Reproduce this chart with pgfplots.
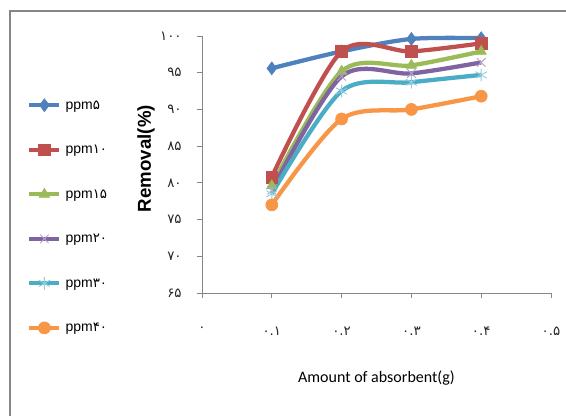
\documentclass[border=0pt]{standalone}
\usepackage{pgfplots}
\pgfplotsset{compat=1.18}
\usepackage{fontspec}
\setmainfont{Liberation Sans}
\newfontfamily\fa{DejaVu Sans}
\newfontfamily\calib{Carlito}
\definecolor{cBlue}{HTML}{4F81BD}
\definecolor{cRed}{HTML}{C0504D}
\definecolor{cGreen}{HTML}{9BBB59}
\definecolor{cPurple}{HTML}{8064A2}
\definecolor{cCyan}{HTML}{4BACC6}
\definecolor{cOrange}{HTML}{F79646}
\definecolor{axgray}{HTML}{868686}
\begin{document}
\begin{tikzpicture}
\path[use as bounding box] (0,0) rectangle (424.5pt,312pt);
\draw[axgray, line width=1.2pt] (7.5pt,-2pt) -- (7.5pt,303.75pt) -- (426pt,303.75pt);
\begin{axis}[
  at={(151.5pt,92.25pt)}, anchor=south west,
  scale only axis, width=261.75pt, height=192.75pt,
  xmin=0, xmax=0.5, ymin=65, ymax=100,
  enlargelimits=false, clip=false,
  axis lines=left, axis line style={-, axgray, line width=0.6pt},
  tick align=outside, major tick length=3.75pt,
  tick style={axgray, line width=0.6pt},
  xtick={0,0.1,0.2,0.3,0.4,0.5},
  xticklabels={۰,۰.۱,۰.۲,۰.۳,۰.۴,۰.۵},
  ytick={65,70,75,80,85,90,95,100},
  yticklabels={۶۵,۷۰,۷۵,۸۰,۸۵,۹۰,۹۵,۱۰۰},
  ticklabel style={font=\fa\fontsize{10}{11}\selectfont, text=black!85},
  xticklabel style={yshift=-18pt},
  yticklabel style={xshift=-8pt},
  xlabel={Amount of absorbent(g)},
  ylabel={Removal(\%)},
  every axis x label/.style={at={(axis description cs:0.5,-0.331)}, anchor=center, font=\calib\fontsize{12}{14}\selectfont},
  every axis y label/.style={at={(axis description cs:-0.1605,0.523)}, rotate=90, anchor=center, font=\bfseries\fontsize{14}{16}\selectfont},
  legend style={at={(axis description cs:-0.5014,0.7576)}, anchor=north west, draw=none, fill=none,
    inner sep=0pt, row sep=23.4pt, column sep=3pt,
    nodes={inner sep=0pt, text height=8pt, text depth=2pt, anchor=west},
    font=\fontsize{10.5}{12}\selectfont},
  legend cell align=left,
  legend image code/.code={\draw[mark repeat=2,mark phase=2] plot coordinates {(0pt,0pt)(11.25pt,0pt)(22.5pt,0pt)};},
  every axis plot/.append style={line width=3.2pt, smooth, tension=0.5},
]
\addplot[cBlue, mark=diamond*, mark size=4.8pt, mark options={solid, line width=0.5pt}]
  coordinates {(0.1,95.6)(0.2,97.9)(0.3,99.6)(0.4,99.7)};
\addlegendentry{ppm{\fa\fontsize{10}{11}\selectfont ۵}}
\addplot[cRed, mark=square*, mark size=4.4pt, mark options={solid, line width=0.5pt}]
  coordinates {(0.1,80.8)(0.2,97.9)(0.3,97.9)(0.4,99.0)};
\addlegendentry{ppm{\fa\fontsize{10}{11}\selectfont ۱۰}}
\addplot[cGreen, mark=triangle*, mark size=4.5pt, mark options={solid, line width=0.5pt}]
  coordinates {(0.1,79.6)(0.2,95.2)(0.3,96.0)(0.4,97.9)};
\addlegendentry{ppm{\fa\fontsize{10}{11}\selectfont ۱۵}}
\addplot[cPurple, mark=x, mark size=4.5pt, mark options={solid, line width=0.7pt, draw=cPurple!60}]
  coordinates {(0.1,79.0)(0.2,94.5)(0.3,94.9)(0.4,96.4)};
\addlegendentry{ppm{\fa\fontsize{10}{11}\selectfont ۲۰}}
\addplot[cCyan, mark=asterisk, mark size=4.8pt, mark options={solid, line width=0.7pt, draw=cCyan!60}]
  coordinates {(0.1,78.5)(0.2,92.5)(0.3,93.7)(0.4,94.7)};
\addlegendentry{ppm{\fa\fontsize{10}{11}\selectfont ۳۰}}
\addplot[cOrange, mark=*, mark size=4.5pt, mark options={solid, line width=0.5pt}]
  coordinates {(0.1,77.0)(0.2,88.7)(0.3,90.0)(0.4,91.8)};
\addlegendentry{ppm{\fa\fontsize{10}{11}\selectfont ۴۰}}
\end{axis}
\end{tikzpicture}
\end{document}
